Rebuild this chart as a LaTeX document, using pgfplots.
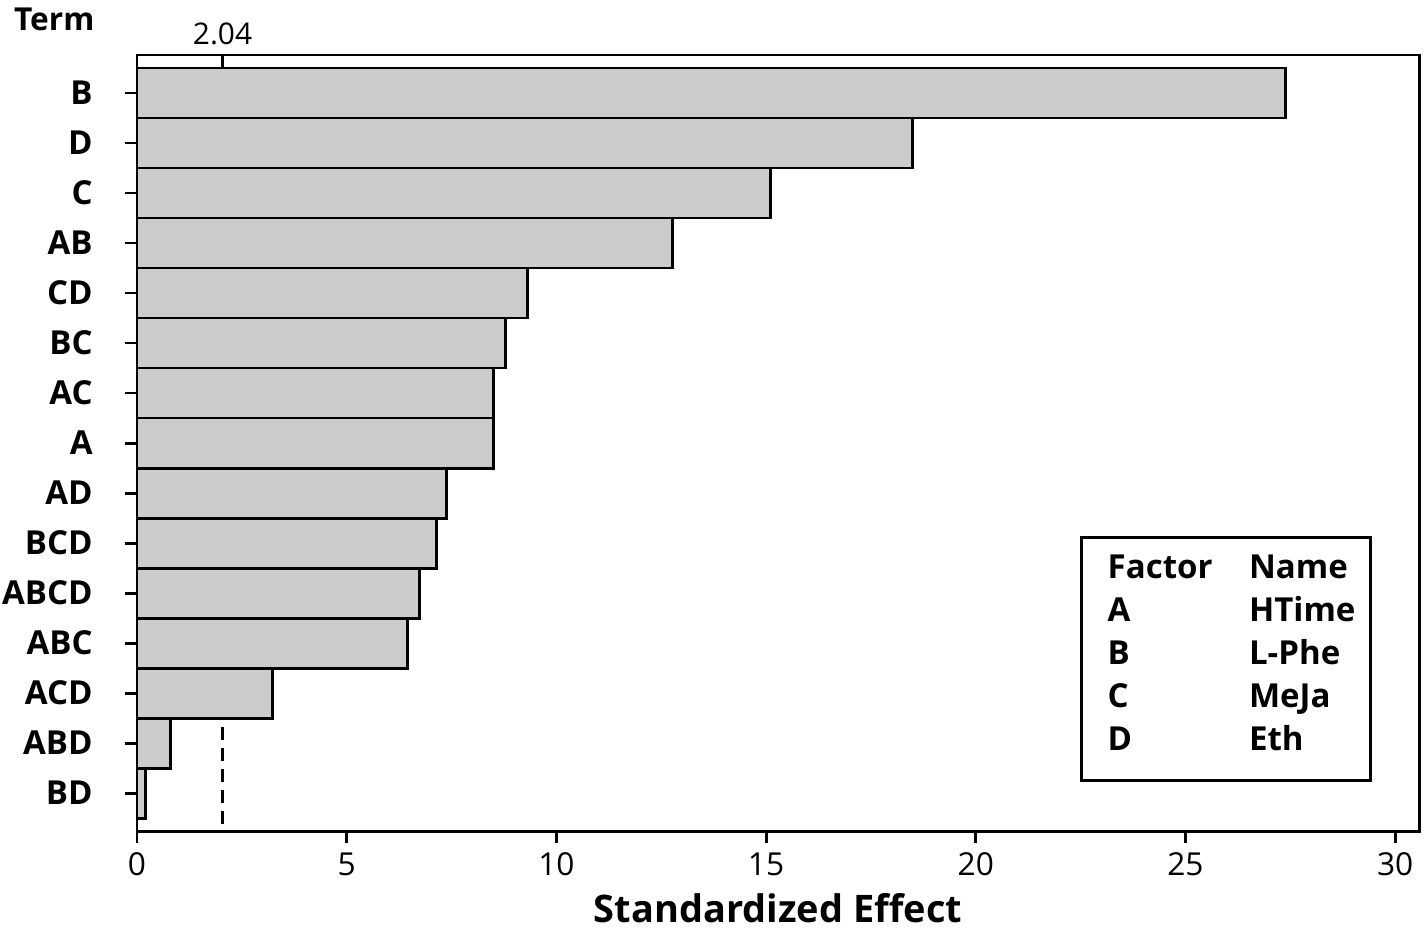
\documentclass[border=0pt]{standalone}
\usepackage{fontspec}
\setmainfont{Open Sans}
\usepackage{pgfplots}
\pgfplotsset{compat=1.18}
\definecolor{barfill}{RGB}{204,204,204}
\begin{document}
\begin{tikzpicture}
\useasboundingbox (-1.37cm,-1.01cm) rectangle (12.87cm,8.31cm);
\begin{axis}[
  at={(0,0)}, anchor=south west,
  scale only axis, width=12.82cm, height=7.76cm,
  xmin=0, xmax=30.57, ymin=0.24, ymax=15.76,
  xtick={0,5,...,30}, xtick pos=bottom,
  ytick={1,...,15}, ytick pos=left,
  yticklabels={BD,ABD,ACD,ABC,ABCD,BCD,AD,A,AC,BC,CD,AB,C,D,B},
  tick align=outside, major tick length=1.2mm,
  every tick/.style={black, line width=0.85pt},
  axis line style={line width=0.85pt},
  /pgf/number format/assume math mode=true,
  xticklabel style={font=\fontsize{9}{10}\selectfont, yshift=0.3mm},
  yticklabel style={font=\bfseries\fontsize{9.4}{11}\selectfont, xshift=-2mm},
  xlabel={\bfseries Standardized Effect},
  xlabel style={font=\fontsize{10.8}{12}\selectfont, at={(axis description cs:0.5,0)}, anchor=base, yshift=-9.1mm},
  clip=false,
]
\addplot[dashed, line width=0.85pt, dash pattern=on 1.3mm off 0.8mm] coordinates {(2.04,15.76) (2.04,0.24)};
\addplot[xbar, bar width=1, fill=barfill, draw=black, line width=0.85pt] coordinates {
(0.21,1) (0.79,2) (3.22,3) (6.46,4) (6.73,5) (7.15,6) (7.37,7) (8.51,8) (8.51,9) (8.78,10) (9.30,11) (12.78,12) (15.10,13) (18.50,14) (27.38,15)};
\node[anchor=base, font=\fontsize{8.5}{9}\selectfont] at (axis cs:2.04,15.98) {2.04};
\draw[line width=0.85pt, fill=white] (axis cs:22.51,1.26) rectangle (axis cs:29.41,6.12);
\begin{scope}[every node/.style={anchor=base west, font=\bfseries\fontsize{9.4}{11}\selectfont, inner sep=0pt}]
\node at (axis cs:23.13,5.30) {Factor};
\node at (axis cs:26.50,5.30) {Name};
\node at (axis cs:23.13,4.44) {A};
\node at (axis cs:26.50,4.44) {HTime};
\node at (axis cs:23.13,3.58) {B};
\node at (axis cs:26.50,3.58) {L-Phe};
\node at (axis cs:23.13,2.72) {C};
\node at (axis cs:26.50,2.72) {MeJa};
\node at (axis cs:23.13,1.86) {D};
\node at (axis cs:26.50,1.86) {Eth};
\end{scope}
\end{axis}
\node[anchor=base east, font=\bfseries\fontsize{9}{10}\selectfont, inner sep=0pt] at (-0.42cm,8.0cm) {Term};
\end{tikzpicture}
\end{document}
